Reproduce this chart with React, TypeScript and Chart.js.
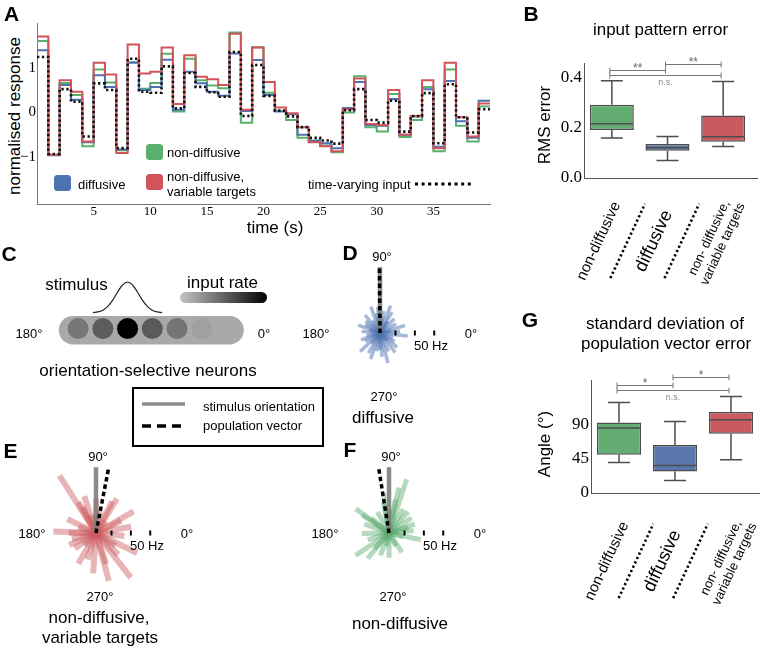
import React, { useEffect, useRef } from "react";
import { Chart, registerables } from "chart.js";

Chart.register(...registerables);

const SANS = '"Liberation Sans", Arial, Helvetica, sans-serif';
const SERIF = '"Liberation Serif", "DejaVu Serif", "Times New Roman", Times, serif';

// ---------------- Panel A : normalised response, 1 s steps ----------------
const stepTimes = [0, 1, 2, 3, 4, 5, 6, 7, 8, 9, 10, 11, 12, 13, 14, 15, 16, 17, 18, 19, 20, 21, 22, 23, 24, 25, 26, 27, 28, 29, 30, 31, 32, 33, 34, 35, 36, 37, 38, 39];
const seriesEnd = 40;
const nonDiffusiveResp = [1.60, -0.95, 0.66, 0.39, -0.76, 0.96, 0.67, -0.85, 1.12, 0.53, 0.66, 1.31, 0.02, 1.20, 0.72, 0.60, 0.54, 1.79, -0.23, 1.46, 0.44, 0.03, -0.17, -0.57, -0.63, -0.74, -0.89, 0.00, 0.81, -0.33, -0.43, 0.41, -0.55, -0.17, 0.57, -0.87, 0.96, -0.30, -0.65, 0.13];
const diffusiveResp = [1.39, -0.96, 0.61, 0.28, -0.67, 0.83, 0.57, -0.83, 1.11, 0.50, 0.57, 1.18, 0.06, 0.91, 0.65, 0.46, 0.37, 1.32, 0.03, 1.17, 0.39, 0.02, -0.04, -0.50, -0.64, -0.69, -0.80, 0.10, 0.68, -0.28, -0.30, 0.30, -0.50, -0.09, 0.52, -0.77, 0.70, -0.20, -0.57, 0.26];
const variableTargetsResp = [1.70, -0.95, 0.72, 0.46, -0.65, 1.11, 0.85, -0.91, 1.52, 0.87, 0.91, 1.45, 0.19, 1.28, 0.80, 0.74, 0.61, 1.76, 0.06, 1.45, 0.68, 0.11, -0.02, -0.33, -0.67, -0.76, -0.87, 0.07, 0.76, -0.26, -0.28, 0.50, -0.50, -0.08, 0.72, -0.80, 1.11, -0.11, -0.54, 0.20];
const inputResp = [1.24, -0.93, 0.52, 0.24, -0.54, 0.65, 0.50, -0.80, 1.20, 0.46, 0.44, 1.03, 0.09, 0.88, 0.57, 0.45, 0.35, 1.35, -0.08, 1.06, 0.37, 0.04, -0.09, -0.33, -0.57, -0.63, -0.70, 0.05, 0.52, -0.17, -0.23, 0.26, -0.43, -0.08, 0.43, -0.69, 0.63, -0.11, -0.45, 0.07];
const timeTicks = [5, 10, 15, 20, 25, 30, 35];
const responseTicks = [-1, 0, 1];
const responseTickLabels = ["\u22121", "0", "1"];

// ---------------- Panels B & G : box plots ----------------
const groupNames = ["non-diffusive", "diffusive", "non- diffusive,\nvariable targets"];
// each: [min, q1, median, q3, max]
const rmsNonDiffusive = [0.159, 0.19, 0.215, 0.29, 0.386];
const rmsDiffusive = [0.069, 0.108, 0.12, 0.135, 0.165];
const rmsVariable = [0.125, 0.144, 0.164, 0.248, 0.383];
const rmsTicks = [0, 0.2, 0.4];
const rmsSignif = [
  { from: 0, to: 1, level: 0.43, label: "**" },
  { from: 1, to: 2, level: 0.453, label: "**" },
  { from: 0, to: 2, level: 0.409, label: "n.s." },
];
const angleNonDiffusive = [40.3, 50.4, 85.5, 92.9, 119];
const angleDiffusive = [16.6, 28.4, 36.3, 63.2, 94.2];
const angleVariable = [43.8, 78, 96.4, 106.6, 127];
const angleTicks = [0, 45, 90];
const angleSignif = [
  { from: 0, to: 1, level: 142.5, label: "*" },
  { from: 1, to: 2, level: 152.6, label: "*" },
  { from: 0, to: 2, level: 136, label: "n.s." },
];

// ---------------- Panel C : schematic ----------------
const neuronIndex = [0, 1, 2, 3, 4, 5];
const neuronInputRate = [0.3, 0.46, 1.0, 0.47, 0.32, 0.06];
const stimulusOffsets = [-1.4, -1.2, -1.0, -0.8, -0.6, -0.4, -0.2, 0, 0.2, 0.4, 0.6, 0.8, 1.0, 1.2, 1.4];
const stimulusProfile = [0.008, 0.028, 0.085, 0.206, 0.411, 0.674, 0.906, 1, 0.906, 0.674, 0.411, 0.206, 0.085, 0.028, 0.008];
const stimulusNeuron = 2;

// ---------------- Panels D, E, F : rose plots ----------------
const stimulusOrientation = 90;
const diffusiveAngles = [109, 69, 17, 354, 223, 285, 175, 308, 45, 130, 150, 200, 240, 260, 330, 30, 80, 100, 160, 190, 210, 250, 270, 295, 320, 340, 5, 55, 120, 140, 60, 95, 230, 275, 10, 165, 315, 85];
const diffusiveRates = [36, 38, 34, 36, 35, 40, 24, 32, 26, 30, 22, 26, 30, 24, 22, 24, 29, 26, 30, 18, 22, 36, 22, 26, 29, 18, 26, 18, 19, 24, 31, 34, 18, 31, 14, 14, 14, 22];
const diffusivePopVector = 90.5;
const variableAngles = [122.5, 178, 285, 308, 30, 334, 10, 204, 240, 58.6, 117, 154, 216, 252, 327, 354, 80, 107, 161, 26, 288, 266, 180, 63, 194, 107.5, 120, 51, 316, 226, 90];
const variableRates = [88, 55, 64, 73, 56, 59, 46, 38, 46, 52, 38, 41, 34, 36, 30, 37, 29, 24, 24, 36, 42, 52, 35, 46, 32, 50, 46, 20, 40, 22, 44];
const variablePopVector = 79;
const nonDiffAngles = [213.7, 230, 71.8, 77.8, 144, 348, 304, 33.7, 270, 249, 181, 140, 100, 79, 16, 198, 298, 119, 59, 6, 160, 259, 48, 146, 346, 227, 98, 19, 90];
const nonDiffRates = [52, 43, 73, 60, 53, 42, 30, 35, 32, 31, 35, 30, 40, 44, 26, 29, 19, 31, 36, 32, 34, 17, 37, 42, 19, 28, 52, 35, 30];
const nonDiffPopVector = 99;
const rateTicks = [20, 45, 70];
const vectorLength = 85;

// ---------------- styles ----------------
const GREEN = "#59b06a";
const BLUE = "#4c72b0";
const RED = "#d0545a";
const BOX_GREEN = "#63ad72";
const BOX_BLUE = "#5a77ad";
const BOX_RED = "#c95b60";
const EDGE = "#4d4d4d";
const PX_PER_HZ = 0.83;
const POLAR_HALF = 90;

const baseOpts = {
  animation: false as const,
  responsive: false,
  maintainAspectRatio: false,
  devicePixelRatio: 1,
  events: [] as any[],
  plugins: { legend: { display: false }, tooltip: { enabled: false } },
};

function makeA(canvas: HTMLCanvasElement) {
  const pts = (arr: number[]) => [
    ...arr.map((v, i) => ({ x: stepTimes[i], y: v })),
    { x: seriesEnd, y: arr[arr.length - 1] },
  ];
  const ds = (data: number[], color: string, order: number, extra: any = {}) => ({
    data: pts(data), borderColor: color, borderWidth: 2, stepped: true, pointRadius: 0, fill: false, order, ...extra,
  });
  // y tick labels drawn by a small plugin from the scale (keeps the long minus sign)
  const yLabels = {
    id: "yLabels",
    afterDraw(chart: any) {
      const ctx = chart.ctx;
      const ys = chart.scales.y;
      ctx.save();
      ctx.fillStyle = "#000";
      ctx.font = `15px ${SERIF}`;
      ctx.textAlign = "right";
      ctx.textBaseline = "middle";
      responseTicks.forEach((v, i) => {
        ctx.fillText(responseTickLabels[i], ys.right - 1, ys.getPixelForValue(v));
      });
      ctx.restore();
    },
  };
  return new Chart(canvas, {
    type: "line",
    data: {
      datasets: [
        ds(inputResp, "#111", 0, { borderWidth: 2.6, borderDash: [2.3, 2.6] }),
        ds(variableTargetsResp, RED, 1),
        ds(diffusiveResp, BLUE, 2),
        ds(nonDiffusiveResp, GREEN, 3),
      ],
    },
    options: {
      ...baseOpts,
      layout: { padding: { top: 23, right: 10, left: 0, bottom: 0 } },
      scales: {
        x: {
          type: "linear", min: 0, max: seriesEnd,
          grid: { display: false, drawTicks: false, tickLength: 0 },
          border: { display: true, color: "#777", width: 1 },
          ticks: { font: { family: SERIF, size: 13 }, color: "#000", padding: 0, maxRotation: 0 },
          afterBuildTicks: (s: any) => { s.ticks = timeTicks.map((v) => ({ value: v })); },
          afterFit: (s: any) => { s.height = 36; },
        },
        y: {
          type: "linear", min: -2.05, max: 2.0,
          grid: { display: false, drawTicks: false, tickLength: 0 },
          border: { display: true, color: "#777", width: 1 },
          ticks: { display: false },
          afterBuildTicks: (s: any) => { s.ticks = responseTicks.map((v) => ({ value: v })); },
          afterFit: (s: any) => { s.width = 37; },
        },
      },
    } as any,
    plugins: [yLabels],
  });
}

type LabelItem = { pos: number; lines?: string[]; size?: number; dots?: boolean; dx: number };

function makeBox(canvas: HTMLCanvasElement, cfg: any) {
  const { stats, colors, yMax, ticks, fmt, brackets, labels, pad, xHeight, yWidth, labelDy, extendAxis } = cfg;
  const plugin = {
    id: "boxExtras",
    afterDraw(chart: any) {
      const ctx = chart.ctx;
      const xs = chart.scales.x;
      const ys = chart.scales.y;
      const meta = chart.getDatasetMeta(0);
      const area = chart.chartArea;
      ctx.save();
      ctx.strokeStyle = EDGE;
      ctx.lineWidth = 1.5;
      stats.forEach((s: number[], i: number) => {
        const el = meta.data[i];
        const cx = el.x;
        const w = el.width;
        const [mn, q1, md, q3, mx] = s.map((v) => ys.getPixelForValue(v));
        ctx.beginPath();
        ctx.moveTo(cx, q3); ctx.lineTo(cx, mx);
        ctx.moveTo(cx, q1); ctx.lineTo(cx, mn);
        ctx.moveTo(cx - w / 4, mx); ctx.lineTo(cx + w / 4, mx);
        ctx.moveTo(cx - w / 4, mn); ctx.lineTo(cx + w / 4, mn);
        ctx.stroke();
        ctx.beginPath();
        ctx.moveTo(cx - w / 2 + 1, md); ctx.lineTo(cx + w / 2 - 1, md);
        ctx.stroke();
      });
      if (extendAxis) {
        ctx.strokeStyle = "#555";
        ctx.lineWidth = 1;
        ctx.beginPath();
        ctx.moveTo(area.right, Math.round(area.bottom) + 0.5);
        ctx.lineTo(area.right + extendAxis, Math.round(area.bottom) + 0.5);
        ctx.stroke();
      }
      brackets.forEach((b: any) => {
        const x1 = xs.getPixelForValue(b.from) - 2;
        const x2 = xs.getPixelForValue(b.to) - 2;
        const yy = Math.round(ys.getPixelForValue(b.level)) + 0.5;
        ctx.strokeStyle = "#777";
        ctx.lineWidth = 1;
        ctx.beginPath();
        ctx.moveTo(x1, yy); ctx.lineTo(x2, yy);
        ctx.moveTo(x1, yy - 3); ctx.lineTo(x1, yy + 3);
        ctx.moveTo(x2, yy - 3); ctx.lineTo(x2, yy + 3);
        ctx.stroke();
        ctx.textAlign = "center";
        if (b.label === "n.s.") {
          ctx.fillStyle = "#888";
          ctx.font = `9px ${SANS}`;
          ctx.textBaseline = "middle";
          ctx.fillText(b.label, (x1 + x2) / 2, yy + 7);
        } else {
          ctx.fillStyle = "#666";
          ctx.font = `12px ${SANS}`;
          ctx.textBaseline = "alphabetic";
          ctx.fillText(b.label, (x1 + x2) / 2, yy + 1);
        }
      });
      const rot = (-65 * Math.PI) / 180;
      labels.forEach((L: LabelItem) => {
        const lo = Math.floor(L.pos);
        const hi = Math.ceil(L.pos);
        const pl = xs.getPixelForValue(lo);
        const ph = xs.getPixelForValue(hi);
        const px = pl + (ph - pl) * (L.pos - lo) + L.dx;
        const py = area.bottom + labelDy;
        ctx.save();
        ctx.translate(px, py);
        ctx.rotate(rot);
        if (L.dots) {
          ctx.strokeStyle = "#000";
          ctx.lineWidth = 2.6;
          ctx.setLineDash([2.2, 2.6]);
          ctx.beginPath();
          ctx.moveTo(-41, 0); ctx.lineTo(41, 0);
          ctx.stroke();
        } else if (L.lines) {
          ctx.fillStyle = "#000";
          ctx.font = `${L.size}px ${SANS}`;
          ctx.textAlign = "center";
          ctx.textBaseline = "middle";
          const lh = (L.size || 13) * 1.15;
          L.lines.forEach((ln, k) => {
            ctx.fillText(ln, 0, (k - (L.lines!.length - 1) / 2) * lh);
          });
        }
        ctx.restore();
      });
      ctx.restore();
    },
  };
  return new Chart(canvas, {
    type: "bar",
    data: {
      labels: groupNames,
      datasets: [
        {
          data: stats.map((s: number[]) => [s[1], s[3]]),
          backgroundColor: colors,
          borderColor: EDGE,
          borderWidth: 1.5,
          borderSkipped: false,
          barPercentage: 0.79,
          categoryPercentage: 1,
        },
      ],
    },
    options: {
      ...baseOpts,
      layout: { padding: pad },
      scales: {
        x: {
          grid: { display: false, drawTicks: false, tickLength: 0 },
          border: { display: true, color: "#555", width: 1 },
          ticks: { display: false },
          afterFit: (s: any) => { s.height = xHeight; },
        },
        y: {
          type: "linear", min: 0, max: yMax,
          grid: { display: false, drawTicks: false, tickLength: 0 },
          border: { display: true, color: "#555", width: 1 },
          ticks: { font: { family: SERIF, size: 17 }, color: "#000", padding: 2, callback: fmt },
          afterBuildTicks: (s: any) => { s.ticks = ticks.map((v: number) => ({ value: v })); },
          afterFit: (s: any) => { s.width = yWidth; },
        },
      },
    } as any,
    plugins: [plugin],
  });
}

function makeC(canvas: HTMLCanvasElement) {
  const ROW_Y = 29, STIM_BASE = 49, STIM_AMP = 39;
  const gray = (r: number) => {
    const g = Math.round(170 * (1 - r));
    return `rgb(${g},${g},${g})`;
  };
  const track = {
    id: "track",
    beforeDatasetsDraw(chart: any) {
      const ctx = chart.ctx;
      const xs = chart.scales.x;
      const ys = chart.scales.y;
      const x1 = xs.getPixelForValue(-0.78);
      const x2 = xs.getPixelForValue(6.7);
      const y1 = ys.getPixelForValue(45);
      const y2 = ys.getPixelForValue(9);
      ctx.save();
      ctx.fillStyle = "#a9a9a9";
      ctx.beginPath();
      ctx.roundRect(x1, y1, x2 - x1, y2 - y1, 18);
      ctx.fill();
      ctx.restore();
    },
  };
  return new Chart(canvas, {
    type: "scatter",
    data: {
      datasets: [
        {
          data: neuronIndex.map((n) => ({ x: n, y: ROW_Y })),
          pointRadius: 10.5,
          pointBackgroundColor: neuronInputRate.map(gray),
          pointBorderWidth: 0,
          order: 0,
        },
        {
          data: stimulusOffsets.map((o, i) => ({ x: stimulusNeuron + o, y: STIM_BASE + STIM_AMP * stimulusProfile[i] })),
          showLine: true,
          borderColor: "#222",
          borderWidth: 1.2,
          pointRadius: 0,
          cubicInterpolationMode: "monotone",
          order: 1,
          clip: false,
        },
      ],
    },
    options: {
      ...baseOpts,
      layout: { padding: 0 },
      scales: {
        x: { type: "linear", display: false, min: -1.52, max: 7.74 },
        y: { type: "linear", display: false, min: 0, max: 100 },
      },
    } as any,
    plugins: [track],
  });
}

function makePolar(canvas: HTMLCanvasElement, angles: number[], rates: number[], color: string, barWidth: number, popAngle: number) {
  const R = POLAR_HALF / PX_PER_HZ;
  const xy = (deg: number, r: number) => ({ x: r * Math.cos((deg * Math.PI) / 180), y: r * Math.sin((deg * Math.PI) / 180) });
  const seg = (pts: any[], c: string, w: number, order: number, dash: number[] = []) => ({
    data: pts, showLine: true, borderColor: c, borderWidth: w, borderCapStyle: "butt",
    borderDash: dash, pointRadius: 0, order, clip: false,
  });
  const datasets: any[] = [
    ...angles.map((a, i) => seg([{ x: 0, y: 0 }, xy(a, rates[i])], color, barWidth, 3)),
    seg([{ x: 0, y: 0 }, xy(stimulusOrientation, vectorLength)], "rgba(125,125,125,0.9)", 4.5, 2),
    seg([{ x: 0, y: 0 }, xy(popAngle, vectorLength)], "#000", 3.5, 1, [4.5, 3]),
    {
      data: rateTicks.map((r) => ({ x: r, y: 0 })),
      showLine: false, pointStyle: "line", rotation: 90, pointRadius: 2.5,
      pointBorderWidth: 2, pointBorderColor: "#000", order: 0, clip: false,
    },
  ];
  return new Chart(canvas, {
    type: "scatter",
    data: { datasets },
    options: {
      ...baseOpts,
      layout: { padding: 0 },
      scales: {
        x: { type: "linear", display: false, min: -R, max: R },
        y: { type: "linear", display: false, min: -R, max: R },
      },
    } as any,
  });
}

type TP = { x: number; y: number; s?: number; b?: boolean; left?: boolean; r?: number; c?: string; f?: string; children: React.ReactNode };
function T({ x, y, s = 13, b = false, left = false, r = 0, c = "#000", f = SANS, children }: TP) {
  return (
    <div
      style={{
        position: "absolute", left: x, top: y, fontSize: s, fontWeight: b ? 700 : 400, fontFamily: f, color: c,
        lineHeight: 1, whiteSpace: "nowrap",
        transform: `translate(${left ? "0" : "-50%"},-50%)${r ? ` rotate(${r}deg)` : ""}`,
      }}
    >
      {children}
    </div>
  );
}

function Patch({ x, y, color }: { x: number; y: number; color: string }) {
  return <div style={{ position: "absolute", left: x, top: y, width: 17, height: 16, borderRadius: 3.5, background: color }} />;
}

function PolarLabels({ cx, cy }: { cx: number; cy: number }) {
  return (
    <>
      <T x={cx + 2} y={cy - 77}>90°</T>
      <T x={cx + 4} y={cy + 63}>270°</T>
      <T x={cx - 64} y={cy}>180°</T>
      <T x={cx + 91} y={cy}>0°</T>
      <T x={cx + 34} y={cy + 12} left>50 Hz</T>
    </>
  );
}

const D_C = { x: 380, y: 333 };
const E_C = { x: 96, y: 533 };
const F_C = { x: 389, y: 533 };

export default function App() {
  const aRef = useRef<HTMLCanvasElement>(null);
  const bRef = useRef<HTMLCanvasElement>(null);
  const cRef = useRef<HTMLCanvasElement>(null);
  const dRef = useRef<HTMLCanvasElement>(null);
  const eRef = useRef<HTMLCanvasElement>(null);
  const fRef = useRef<HTMLCanvasElement>(null);
  const gRef = useRef<HTMLCanvasElement>(null);

  useEffect(() => {
    const labelItems = (lastDx: number, dx: number): LabelItem[] => [
      { pos: 0, lines: [groupNames[0]], size: 15, dx },
      { pos: 0.5, dots: true, dx: dx + 1 },
      { pos: 1, lines: [groupNames[1]], size: 18, dx: dx - 0.5 },
      { pos: 1.5, dots: true, dx: dx - 0.5 },
      { pos: 2, lines: groupNames[2].split("\n"), size: 13, dx: lastDx },
    ];
    const charts = [
      makeA(aRef.current!),
      makeBox(bRef.current!, {
        stats: [rmsNonDiffusive, rmsDiffusive, rmsVariable],
        colors: [BOX_GREEN, BOX_BLUE, BOX_RED],
        yMax: 0.456, ticks: rmsTicks, fmt: (v: number) => v.toFixed(1),
        brackets: rmsSignif, labels: labelItems(-7, -13),
        pad: { top: 63, right: 9, left: 0, bottom: 0 }, xHeight: 122, yWidth: 84, labelDy: 63, extendAxis: 7,
      }),
      makeC(cRef.current!),
      makePolar(dRef.current!, diffusiveAngles, diffusiveRates, "rgba(76,114,176,0.5)", 3.5, diffusivePopVector),
      makePolar(eRef.current!, variableAngles, variableRates, "rgba(205,92,96,0.45)", 6, variablePopVector),
      makePolar(fRef.current!, nonDiffAngles, nonDiffRates, "rgba(90,170,110,0.45)", 5, nonDiffPopVector),
      makeBox(gRef.current!, {
        stats: [angleNonDiffusive, angleDiffusive, angleVariable],
        colors: [BOX_GREEN, BOX_BLUE, BOX_RED],
        yMax: 148.7, ticks: angleTicks, fmt: (v: number) => String(v),
        brackets: angleSignif, labels: labelItems(-3, -12),
        pad: { top: 80, right: 1, left: 0, bottom: 0 }, xHeight: 155, yWidth: 91, labelDy: 68, extendAxis: 0,
      }),
    ];
    return () => charts.forEach((c) => c.destroy());
  }, []);

  const P = 2 * POLAR_HALF;
  return (
    <div style={{ position: "absolute", left: 0, top: 0, width: 760, height: 648, background: "#fff", overflow: "hidden", fontFamily: SANS, color: "#000" }}>
      <T x={14} y={116} s={17} r={-90}>normalised response</T>
      <canvas ref={aRef} width={500} height={240} style={{ position: "absolute", left: 0, top: 0 }} />
      <canvas ref={bRef} width={260} height={300} style={{ position: "absolute", left: 500, top: 0 }} />
      <canvas ref={cRef} width={250} height={100} style={{ position: "absolute", left: 30, top: 262 }} />
      <canvas ref={dRef} width={P} height={P} style={{ position: "absolute", left: D_C.x - POLAR_HALF, top: D_C.y - POLAR_HALF }} />
      <canvas ref={eRef} width={P} height={P} style={{ position: "absolute", left: E_C.x - POLAR_HALF, top: E_C.y - POLAR_HALF }} />
      <canvas ref={fRef} width={P} height={P} style={{ position: "absolute", left: F_C.x - POLAR_HALF, top: F_C.y - POLAR_HALF }} />
      <canvas ref={gRef} width={260} height={348} style={{ position: "absolute", left: 500, top: 300 }} />

      <T x={11.5} y={12.5} s={21} b>A</T>
      <T x={531} y={12.5} s={21} b>B</T>
      <T x={9} y={252.5} s={21} b>C</T>
      <T x={350} y={251.5} s={21} b>D</T>
      <T x={10.5} y={450} s={21} b>E</T>
      <T x={350} y={449} s={21} b>F</T>
      <T x={530} y={318.5} s={21} b>G</T>

      <T x={275} y={227} s={17}>time (s)</T>
      <Patch x={146} y={144} color={GREEN} />
      <T x={167} y={152} left>non-diffusive</T>
      <Patch x={54} y={175} color={BLUE} />
      <T x={78} y={183.5} left>diffusive</T>
      <Patch x={146} y={174} color={RED} />
      <T x={167} y={176} left>non-diffusive,</T>
      <T x={167} y={190.5} left>variable targets</T>
      <T x={308} y={184} left>time-varying input</T>
      <svg style={{ position: "absolute", left: 414, top: 180 }} width={62} height={8}>
        <line x1={1} y1={4} x2={60} y2={4} stroke="#000" strokeWidth={3} strokeDasharray="3 3.6" />
      </svg>

      <T x={660.5} y={29} s={17}>input pattern error</T>
      <T x={543.5} y={125} s={17} r={-90}>RMS error</T>

      <T x={76.5} y={284} s={17}>stimulus</T>
      <T x={222.5} y={281.5} s={17}>input rate</T>
      <div style={{ position: "absolute", left: 180, top: 292, width: 87, height: 11, borderRadius: 5.5, background: "linear-gradient(to right, #c4c4c4, #000)" }} />
      <T x={29} y={333}>180°</T>
      <T x={264} y={333}>0°</T>
      <T x={148} y={370} s={17}>orientation-selective neurons</T>

      <div style={{ position: "absolute", left: 132, top: 387, width: 192, height: 60, border: "2px solid #000", boxSizing: "border-box" }} />
      <svg style={{ position: "absolute", left: 140, top: 398 }} width={50} height={34}>
        <line x1={2} y1={6} x2={45} y2={6} stroke="#8c8c8c" strokeWidth={3.5} />
        <line x1={2} y1={28} x2={47} y2={28} stroke="#000" strokeWidth={3.5} strokeDasharray="9 6" />
      </svg>
      <T x={203} y={406} left>stimulus orientation</T>
      <T x={203} y={425} left>population vector</T>

      <PolarLabels cx={D_C.x} cy={D_C.y} />
      <PolarLabels cx={E_C.x} cy={E_C.y} />
      <PolarLabels cx={F_C.x} cy={F_C.y} />
      <T x={383} y={417} s={17}>diffusive</T>
      <T x={99} y={617} s={17}>non-diffusive,</T>
      <T x={100} y={637} s={17}>variable targets</T>
      <T x={400} y={623} s={17}>non-diffusive</T>

      <T x={665} y={323} s={17}>standard deviation of</T>
      <T x={666} y={343} s={17}>population vector error</T>
      <T x={544} y={444} s={17} r={-90}>Angle (°)</T>
    </div>
  );
}
